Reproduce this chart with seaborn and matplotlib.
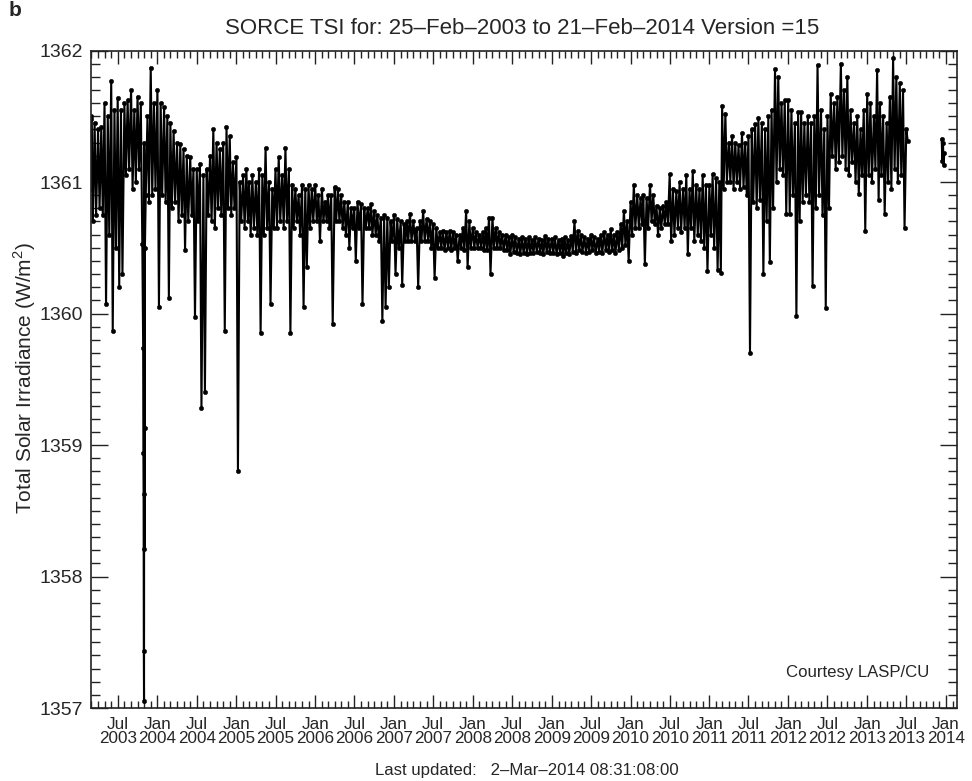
import pandas as pd
import seaborn as sns
import matplotlib
matplotlib.use("Agg")
import matplotlib.pyplot as plt
import matplotlib.dates as mdates
from matplotlib.ticker import MultipleLocator, FuncFormatter

# SORCE TSI, read off the picture as half-month upper / lower envelope values (W/m^2)
# each year: first half-month index (0 = 1 Jan, 1 = 16 Jan, ...), highs, lows
hi_2003 = [1361.50, 1361.45, 1361.40, 1361.42, 1361.60, 1361.50, 1361.77, 1361.55, 1361.64, 1361.55,
           1361.60, 1361.62, 1361.70, 1361.55, 1361.65, 1361.60, 1361.30, 1361.50, 1361.87, 1361.60]
lo_2003 = [1360.70, 1360.75, 1360.80, 1360.75, 1360.07, 1360.60, 1359.87, 1360.50, 1360.20, 1360.30,
           1361.05, 1361.10, 1360.95, 1361.00, 1361.10, 1360.53, 1360.90, 1360.85, 1360.90, 1360.95]

hi_2004 = [1361.70, 1361.60, 1361.57, 1361.50, 1361.45, 1361.39, 1361.30, 1361.29, 1361.25, 1361.20, 1361.19, 1361.10,
           1361.10, 1361.14, 1361.05, 1361.10, 1361.20, 1361.40, 1361.30, 1361.25, 1361.30, 1361.42, 1361.35, 1361.15]
lo_2004 = [1360.05, 1360.90, 1360.85, 1360.12, 1360.80, 1360.85, 1360.70, 1360.75, 1360.48, 1360.70, 1360.75, 1359.97,
           1360.70, 1359.28, 1359.40, 1360.75, 1360.70, 1360.65, 1360.80, 1360.75, 1359.87, 1360.80, 1360.75, 1360.80]

hi_2005 = [1361.19, 1361.00, 1361.05, 1361.10, 1361.00, 1361.05, 1361.00, 1361.10, 1361.05, 1361.26, 1361.00, 1360.95,
           1361.10, 1361.19, 1361.05, 1361.26, 1361.10, 1360.98, 1360.95, 1360.90, 1360.98, 1360.95, 1360.98, 1360.95]
lo_2005 = [1358.80, 1360.70, 1360.65, 1360.70, 1360.60, 1360.65, 1360.60, 1359.85, 1360.60, 1360.65, 1360.07, 1360.65,
           1360.65, 1360.70, 1360.65, 1360.70, 1359.85, 1360.65, 1360.70, 1360.60, 1360.05, 1360.35, 1360.65, 1360.70]

hi_2006 = [1360.98, 1360.90, 1360.95, 1360.85, 1360.90, 1360.90, 1360.96, 1360.95, 1360.90, 1360.85, 1360.85, 1360.80,
           1360.80, 1360.85, 1360.83, 1360.80, 1360.80, 1360.83, 1360.78, 1360.75, 1360.73, 1360.75, 1360.73, 1360.70]
lo_2006 = [1360.70, 1360.55, 1360.70, 1360.70, 1360.65, 1359.92, 1360.70, 1360.70, 1360.65, 1360.60, 1360.50, 1360.65,
           1360.40, 1360.65, 1360.07, 1360.65, 1360.65, 1360.60, 1360.60, 1360.55, 1359.94, 1360.05, 1360.20, 1360.55]

hi_2007 = [1360.75, 1360.72, 1360.70, 1360.68, 1360.70, 1360.76, 1360.70, 1360.65, 1360.70, 1360.78, 1360.72, 1360.70,
           1360.68, 1360.65, 1360.62, 1360.63, 1360.62, 1360.63, 1360.62, 1360.60, 1360.60, 1360.65, 1360.78, 1360.70]
lo_2007 = [1360.30, 1360.50, 1360.22, 1360.55, 1360.55, 1360.55, 1360.55, 1360.20, 1360.55, 1360.55, 1360.55, 1360.50,
           1360.27, 1360.50, 1360.50, 1360.48, 1360.50, 1360.48, 1360.50, 1360.40, 1360.50, 1360.48, 1360.35, 1360.50]

hi_2008 = [1360.65, 1360.62, 1360.60, 1360.62, 1360.65, 1360.73, 1360.73, 1360.65, 1360.62, 1360.60, 1360.60, 1360.58,
           1360.60, 1360.58, 1360.57, 1360.58, 1360.57, 1360.58, 1360.56, 1360.58, 1360.57, 1360.56, 1360.59, 1360.57]
lo_2008 = [1360.50, 1360.50, 1360.50, 1360.48, 1360.48, 1360.30, 1360.50, 1360.50, 1360.50, 1360.48, 1360.48, 1360.45,
           1360.47, 1360.46, 1360.45, 1360.46, 1360.45, 1360.46, 1360.46, 1360.47, 1360.46, 1360.45, 1360.47, 1360.46]

hi_2009 = [1360.57, 1360.58, 1360.56, 1360.57, 1360.58, 1360.56, 1360.59, 1360.70, 1360.63, 1360.60, 1360.58, 1360.57,
           1360.60, 1360.58, 1360.57, 1360.60, 1360.62, 1360.60, 1360.64, 1360.60, 1360.62, 1360.68, 1360.78, 1360.70]
lo_2009 = [1360.46, 1360.45, 1360.46, 1360.44, 1360.46, 1360.45, 1360.47, 1360.46, 1360.48, 1360.47, 1360.46, 1360.47,
           1360.48, 1360.46, 1360.47, 1360.46, 1360.48, 1360.47, 1360.48, 1360.46, 1360.48, 1360.50, 1360.52, 1360.40]

hi_2010 = [1360.85, 1360.98, 1360.90, 1360.88, 1360.90, 1360.88, 1360.98, 1360.90, 1360.82, 1360.80, 1360.82, 1360.85,
           1361.06, 1360.95, 1360.93, 1361.00, 1360.95, 1361.05, 1360.95, 1361.08, 1360.98, 1360.95, 1361.05, 1360.98]
lo_2010 = [1360.60, 1360.65, 1360.65, 1360.68, 1360.38, 1360.65, 1360.70, 1360.68, 1360.60, 1360.65, 1360.68, 1360.68,
           1360.55, 1360.60, 1360.65, 1360.62, 1360.65, 1360.45, 1360.65, 1360.55, 1360.60, 1360.55, 1360.50, 1360.32]

hi_2011 = [1360.98, 1361.06, 1361.03, 1361.00, 1361.58, 1361.52, 1361.30, 1361.35, 1361.30, 1361.28, 1361.37, 1361.30,
           1361.35, 1361.40, 1361.44, 1361.49, 1361.45, 1361.40, 1361.50, 1361.55, 1361.86, 1361.80, 1361.60, 1361.62]
lo_2011 = [1360.60, 1360.50, 1360.33, 1360.31, 1360.95, 1361.00, 1361.00, 1360.95, 1361.00, 1360.95, 1360.96, 1360.90,
           1359.70, 1360.85, 1360.80, 1360.86, 1360.30, 1360.70, 1360.39, 1360.80, 1361.00, 1361.10, 1361.05, 1360.76]

hi_2012 = [1361.62, 1361.55, 1361.45, 1361.53, 1361.53, 1361.45, 1361.50, 1361.45, 1361.50, 1361.89, 1361.55, 1361.40,
           1361.50, 1361.67, 1361.60, 1361.65, 1361.90, 1361.70, 1361.80, 1361.55, 1361.45, 1361.50, 1361.40, 1361.55]
lo_2012 = [1360.76, 1360.90, 1359.98, 1360.70, 1360.85, 1360.90, 1360.85, 1360.21, 1360.80, 1360.90, 1360.75, 1360.04,
           1360.80, 1361.20, 1361.10, 1361.15, 1361.20, 1361.10, 1361.05, 1361.15, 1361.00, 1360.91, 1361.05, 1360.63]

hi_2013 = [1361.67, 1361.60, 1361.50, 1361.85, 1361.60, 1361.50, 1361.45, 1361.65, 1361.94, 1361.80, 1361.75, 1361.70, 1361.40]
lo_2013 = [1361.05, 1361.00, 1361.10, 1360.86, 1361.05, 1360.76, 1361.00, 1360.95, 1361.10, 1361.00, 1361.05, 1360.65, 1361.31]

# first days of the record and the Halloween 2003 sunspot dip
start_dates = ["2003-02-25", "2003-02-27"]
start_tsi = [1361.48, 1360.95]
storm_dates = ["2003-10-27", "2003-10-28", "2003-10-29", "2003-10-30", "2003-10-31",
               "2003-11-02", "2003-11-03", "2003-11-04"]
storm_tsi = [1359.74, 1358.94, 1358.63, 1357.43, 1357.05, 1358.21, 1359.13, 1360.50]

# short piece after the data gap
end_dates = ["2013-12-12", "2013-12-15", "2013-12-18", "2013-12-21", "2013-12-24"]
end_tsi = [1361.33, 1361.16, 1361.30, 1361.13, 1361.22]

years = [(2003, 4, hi_2003, lo_2003), (2004, 0, hi_2004, lo_2004), (2005, 0, hi_2005, lo_2005),
         (2006, 0, hi_2006, lo_2006), (2007, 0, hi_2007, lo_2007), (2008, 0, hi_2008, lo_2008),
         (2009, 0, hi_2009, lo_2009), (2010, 0, hi_2010, lo_2010), (2011, 0, hi_2011, lo_2011),
         (2012, 0, hi_2012, lo_2012), (2013, 0, hi_2013, lo_2013)]


def half_month_rows(year, first, hi, lo):
    rows = []
    for i, (h, l) in enumerate(zip(hi, lo)):
        k = first + i
        t0 = pd.Timestamp(year, k // 2 + 1, 1 if k % 2 == 0 else 16)
        rows.append((t0, h))
        rows.append((t0 + pd.Timedelta(days=7), l))
    return rows


rows = list(zip(pd.to_datetime(start_dates), start_tsi))
rows += list(zip(pd.to_datetime(storm_dates), storm_tsi))
for y, first, hi, lo in years:
    rows += half_month_rows(y, first, hi, lo)
main = pd.DataFrame(rows, columns=["date", "tsi"]).sort_values("date", kind="stable")
main["seg"] = 0
tail = pd.DataFrame({"date": pd.to_datetime(end_dates), "tsi": end_tsi, "seg": 1})
df = pd.concat([main, tail], ignore_index=True)

sns.set_style("ticks")
plt.rcParams["font.family"] = ["Liberation Sans", "DejaVu Sans"]
plt.rcParams["mathtext.fontset"] = "custom"
plt.rcParams["mathtext.rm"] = "Liberation Sans"

W, H = 972, 781
fig = plt.figure(figsize=(W / 100, H / 100), dpi=100)
ax = fig.add_axes([90.5 / W, 1 - 708 / H, (957 - 90.5) / W, (708 - 50.5) / H])

sns.lineplot(data=df, x="date", y="tsi", units="seg", estimator=None, sort=False,
             color="black", linewidth=1.5, marker="o", markersize=3.2,
             markeredgecolor="black", markeredgewidth=0.3, legend=False, ax=ax)

ax.set_xlim(pd.Timestamp("2003-02-25"), pd.Timestamp("2014-02-21"))
ax.set_ylim(1357, 1362)
ax.set_xlabel("")
ax.set_ylabel("")

ax.xaxis.set_major_locator(mdates.MonthLocator(bymonth=[1, 7]))
ax.xaxis.set_minor_locator(mdates.MonthLocator())
ax.xaxis.set_major_formatter(FuncFormatter(lambda v, pos: mdates.num2date(v).strftime("%b\n%Y")))
ax.yaxis.set_major_locator(MultipleLocator(1))
ax.yaxis.set_minor_locator(MultipleLocator(0.1))
ax.yaxis.set_major_formatter(FuncFormatter(lambda v, pos: f"{v:.0f}"))

ax.tick_params(which="both", direction="in", top=True, right=True, color="#222222", width=1.0)
ax.tick_params(axis="x", which="major", length=9.5, pad=6.5, labelsize=12.3)
ax.tick_params(axis="x", which="minor", length=5)
ax.tick_params(axis="y", which="major", length=12, pad=5.5, labelsize=14)
ax.tick_params(axis="y", which="minor", length=6.5)
for sp in ax.spines.values():
    sp.set_color("#222222")
    sp.set_linewidth(1.2)

fig.canvas.draw()
for lbl in ax.get_xticklabels():
    lbl.set_linespacing(0.95)

fig.text(15 / W, 1 - 11 / H, "b", fontsize=15, fontweight="bold", ha="center", va="center")
fig.text(522 / W, 1 - 29 / H, "SORCE TSI for: 25\u2013Feb\u20132003 to 21\u2013Feb\u20132014 Version =15",
         fontsize=16, ha="center", va="center")
fig.text(25 / W, 1 - 378 / H, "Total Solar Irradiance (W/m$^2$)", fontsize=15,
         rotation=90, ha="center", va="center")
fig.text(858 / W, 1 - 672 / H, "Courtesy LASP/CU", fontsize=12.1, ha="center", va="center")
fig.text(527 / W, 1 - 771 / H, "Last updated:   2\u2013Mar\u20132014 08:31:08:00",
         fontsize=12.1, ha="center", va="center")

fig.savefig("out.png", dpi=100)
